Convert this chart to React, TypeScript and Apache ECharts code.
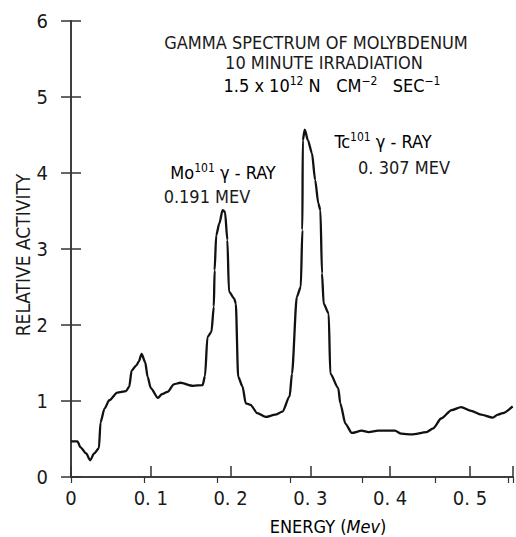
import React, { useEffect, useRef } from "react";
import * as echarts from "echarts";

const energy = [
  0.0, 0.008, 0.012, 0.019, 0.024, 0.029, 0.035, 0.037, 0.042, 0.048, 0.058, 0.069, 0.073,
  0.076, 0.082, 0.085, 0.0885, 0.093, 0.096, 0.1, 0.109, 0.114, 0.121, 0.129, 0.137, 0.153,
  0.165, 0.168, 0.171, 0.176, 0.179, 0.18, 0.182, 0.186, 0.19, 0.193, 0.196, 0.198, 0.2045,
  0.2066, 0.2095, 0.215, 0.219, 0.225, 0.2335, 0.244, 0.256, 0.265, 0.274, 0.277, 0.283,
  0.288, 0.29, 0.2905, 0.293, 0.297, 0.302, 0.306, 0.31, 0.3126, 0.3146, 0.3167, 0.323,
  0.325, 0.335, 0.3375, 0.344, 0.352, 0.3645, 0.373, 0.385, 0.406, 0.414, 0.427, 0.4455,
  0.454, 0.464, 0.477, 0.489, 0.5016, 0.514, 0.5287, 0.535, 0.541, 0.5536,
];
const activity = [
  0.47, 0.47, 0.39, 0.31, 0.22, 0.31, 0.38, 0.72, 0.9, 1.01, 1.11, 1.13, 1.19,
  1.4, 1.47, 1.52, 1.62, 1.51, 1.32, 1.17, 1.04, 1.09, 1.12, 1.22, 1.24, 1.2,
  1.21, 1.33, 1.84, 1.91, 2.24, 2.72, 3.18, 3.34, 3.51, 3.49, 3.12, 2.44, 2.35,
  2.28, 1.32, 1.19, 0.97, 0.95, 0.84, 0.79, 0.82, 0.86, 1.06, 1.36, 2.37,
  2.5, 3.25, 4.43, 4.57, 4.43, 4.26, 3.91, 3.6, 3.51, 2.68, 2.28, 2.15,
  1.36, 1.17, 0.97, 0.7, 0.58, 0.61, 0.59, 0.61, 0.61, 0.57, 0.56, 0.59,
  0.64, 0.77, 0.88, 0.92, 0.87, 0.82, 0.78, 0.82, 0.84, 0.93,
];
const xTickValues = [0, 0.1, 0.2, 0.3, 0.4, 0.5];
const xTickLabels = ["0", "0. 1", "0. 2", "0. 3", "0. 4", "0. 5"];
const yTickLabels = ["0", "1", "2", "3", "4", "5", "6"];

const titleLines = ["GAMMA SPECTRUM OF MOLYBDENUM", "10 MINUTE IRRADIATION"];
const yAxisTitle = "RELATIVE ACTIVITY";
const FONT = "'DejaVu Sans Condensed', 'DejaVu Sans', sans-serif";
const INK = "#1a1a1a";

export default function App() {
  const ref = useRef<HTMLDivElement>(null);
  useEffect(() => {
    if (!ref.current) return;
    const chart = echarts.init(ref.current, undefined, { renderer: "svg" });
    const data = energy.map((e, i) => [e, activity[i]]);
    const supRich = {
      n: { fontSize: 18, fontFamily: FONT, color: INK },
      s: { fontSize: 12, fontFamily: FONT, color: INK, padding: [0, 0, 8, 0] },
    };
    chart.setOption({
      animation: false,
      backgroundColor: "#fff",
      grid: { left: 71, right: 1, top: 21, bottom: 60 },
      xAxis: [
        {
          type: "value",
          min: 0,
          max: 0.554,
          interval: 0.1,
          position: "bottom",
          axisLine: { show: true, lineStyle: { color: "#333", width: 1.5 } },
          axisTick: { show: true, inside: true, length: 11, lineStyle: { color: "#333", width: 1.5 } },
          splitLine: { show: false },
          axisLabel: {
            margin: 11,
            fontSize: 20,
            fontFamily: FONT,
            color: INK,
            formatter: (v: number) => {
              const i = xTickValues.findIndex((t) => Math.abs(t - v) < 1e-6);
              return i >= 0 ? xTickLabels[i] : "";
            },
          },
        },
        {
          type: "value",
          min: 0,
          max: 0.606,
          interval: 0.1,
          position: "top",
          axisLine: { show: true, lineStyle: { color: "#333", width: 1.5 } },
          axisTick: { show: true, inside: true, length: 6, lineStyle: { color: "#333", width: 1.2 } },
          axisLabel: { show: false },
          splitLine: { show: false },
        },
      ],
      yAxis: [
        {
          type: "value",
          min: 0,
          max: 6,
          interval: 1,
          position: "left",
          axisLine: { show: true, lineStyle: { color: "#333", width: 1.5 } },
          axisTick: { show: true, inside: true, length: 10, lineStyle: { color: "#333", width: 1.5 } },
          splitLine: { show: false },
          axisLabel: {
            margin: 23,
            fontSize: 20,
            fontFamily: FONT,
            color: INK,
            formatter: (v: number) => yTickLabels[Math.round(v)] ?? "",
          },
        },
        {
          type: "value",
          min: 0,
          max: 6,
          interval: 1,
          position: "right",
          axisLine: { show: true, lineStyle: { color: "#333", width: 1.5 } },
          axisTick: { show: true, inside: true, length: 10, lineStyle: { color: "#333", width: 1.5 } },
          axisLabel: { show: false },
          splitLine: { show: false },
        },
      ],
      series: [
        {
          type: "line",
          data,
          xAxisIndex: 0,
          yAxisIndex: 0,
          showSymbol: false,
          smooth: 0.25,
          smoothMonotone: "x",
          lineStyle: { color: "#111", width: 2.3 },
        },
      ],
      graphic: [
        {
          type: "text",
          x: 23,
          y: 255,
          rotation: Math.PI / 2,
          style: { text: yAxisTitle, font: `19px ${FONT}`, fill: INK, align: "center", verticalAlign: "middle" },
        },
        {
          type: "text",
          x: 316,
          y: 42,
          style: { text: titleLines[0], font: `18px ${FONT}`, fill: INK, align: "center", verticalAlign: "middle" },
        },
        {
          type: "text",
          x: 324,
          y: 62,
          style: { text: titleLines[1], font: `18px ${FONT}`, fill: INK, align: "center", verticalAlign: "middle" },
        },
        {
          type: "text",
          x: 332,
          y: 85,
          style: {
            text: "{n|1.5 x 10}{s|12}{n| N   CM}{s|−2}{n|   SEC}{s|−1}",
            rich: supRich,
            align: "center",
            verticalAlign: "middle",
          },
        },
        {
          type: "text",
          x: 223,
          y: 172,
          style: {
            text: "{n|Mo}{s|101}{n| γ - RAY}",
            rich: supRich,
            align: "center",
            verticalAlign: "middle",
          },
        },
        {
          type: "text",
          x: 207,
          y: 196,
          style: { text: "0.191 MEV", font: `18px ${FONT}`, fill: INK, align: "center", verticalAlign: "middle" },
        },
        {
          type: "text",
          x: 383,
          y: 141,
          style: {
            text: "{n|Tc}{s|101}{n| γ - RAY}",
            rich: supRich,
            align: "center",
            verticalAlign: "middle",
          },
        },
        {
          type: "text",
          x: 404,
          y: 167,
          style: { text: "0. 307 MEV", font: `18px ${FONT}`, fill: INK, align: "center", verticalAlign: "middle" },
        },
        {
          type: "text",
          x: 328,
          y: 526,
          style: {
            text: "{n|ENERGY (}{i|Mev}{n|)}",
            rich: {
              n: { fontSize: 18, fontFamily: FONT, color: INK },
              i: { fontSize: 18, fontFamily: FONT, fontStyle: "italic", color: INK },
            },
            align: "center",
            verticalAlign: "middle",
          },
        },
      ],
    });
    return () => chart.dispose();
  }, []);
  return (
    <div
      ref={ref}
      style={{ position: "fixed", left: 0, top: 0, width: 516, height: 537, background: "#fff" }}
    />
  );
}
